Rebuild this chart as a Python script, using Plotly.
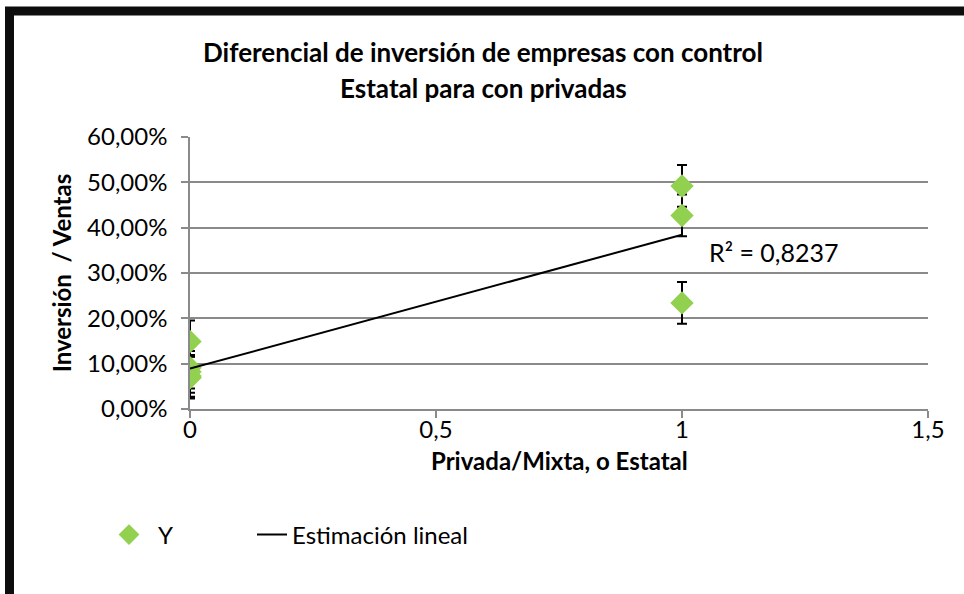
import numpy as np
import plotly.graph_objects as go

# Private/mixed (0) vs state-controlled (1)
control = [0, 0, 0, 0, 0, 0, 1, 1, 1]
inversion_ventas = [0.149, 0.091, 0.082, 0.073, 0.070, 0.069, 0.492, 0.427, 0.234]
error_std = [0.046] * 9
r2_label = "R² = 0,8237"

FONT = "Lato, Calibri, Carlito, sans-serif"
GREEN = "#92D050"
GRID = "#8a8a8a"

slope, intercept = np.polyfit(control, inversion_ventas, 1)
trend_x = [0, 1]
trend_y = [intercept + slope * v for v in trend_x]

fig = go.Figure()
fig.add_trace(
    go.Scatter(
        x=control,
        y=inversion_ventas,
        mode="markers",
        name="Y",
        legend="legend",
        marker=dict(symbol="diamond", size=18, color=GREEN, line=dict(width=0)),
        error_y=dict(type="data", array=error_std, color="black", thickness=2, width=5),
    )
)
fig.add_trace(
    go.Scatter(
        x=trend_x,
        y=trend_y,
        mode="lines",
        name="Estimación lineal",
        legend="legend2",
        line=dict(color="black", width=2),
    )
)


# plot area spans x 190..928 px, y 137..409 px
def px_x(p):
    return (p - 190) / 738


def px_y(p):
    return (409 - p) / 272


fig.add_shape(
    type="rect", xref="paper", yref="paper",
    x0=px_x(9.5), x1=px_x(975), y0=px_y(11), y1=px_y(605),
    line=dict(color="#0d0d0d", width=9), fillcolor="rgba(0,0,0,0)", layer="above",
)

for line_text, ypos in [("Diferencial de inversión de empresas con control", 52),
                        ("Estatal para con privadas", 88)]:
    fig.add_annotation(
        text=f"<b>{line_text}</b>",
        xref="paper", yref="paper", x=px_x(483), y=px_y(ypos),
        xanchor="center", yanchor="middle",
        showarrow=False, font=dict(size=26, color="black", family=FONT),
    )
# x axis title, placed a bit tighter than plotly's standoff allows
fig.add_annotation(
    text="<b>Privada/Mixta, o Estatal</b>",
    xref="paper", yref="paper", x=0.5, y=px_y(460),
    xanchor="center", yanchor="middle",
    showarrow=False, font=dict(size=24, color="black", family=FONT),
)
fig.add_annotation(
    text=r2_label, xref="x", yref="y", x=1.05, y=0.346,
    xanchor="left", yanchor="middle", showarrow=False,
    font=dict(size=25, color="black", family=FONT),
)

legend_common = dict(
    orientation="h", xanchor="left", yanchor="middle",
    font=dict(size=24), bgcolor="rgba(0,0,0,0)",
)

fig.update_layout(
    width=964,
    height=594,
    margin=dict(l=190, r=36, t=137, b=185),
    paper_bgcolor="white",
    plot_bgcolor="white",
    separators=",.",
    font=dict(family=FONT, size=24, color="black"),
    showlegend=True,
    legend=dict(x=px_x(100), y=px_y(535), itemwidth=48, **legend_common),
    legend2=dict(x=px_x(252), y=px_y(535), itemwidth=30, **legend_common),
    xaxis=dict(
        range=[0, 1.5], dtick=0.5, showgrid=False, zeroline=False,
        showline=True, linecolor=GRID, linewidth=1.5,
        ticks="outside", ticklen=7, tickcolor=GRID, tickwidth=1.5,
        ticklabelstandoff=-9,
    ),
    yaxis=dict(
        range=[0, 0.6], dtick=0.1, tickformat=".2%",
        showgrid=True, gridcolor=GRID, gridwidth=1.5, zeroline=False,
        showline=True, linecolor=GRID, linewidth=1.5,
        ticks="outside", ticklen=7, tickcolor=GRID, tickwidth=1.5,
        ticklabelstandoff=9,
        title=dict(text="<b>Inversión  / Ventas</b>", font=dict(size=24), standoff=9),
    ),
)

fig.write_html(
    "out.html",
    config={"displayModeBar": False},
    post_script="document.body.style.margin='0';",
)
